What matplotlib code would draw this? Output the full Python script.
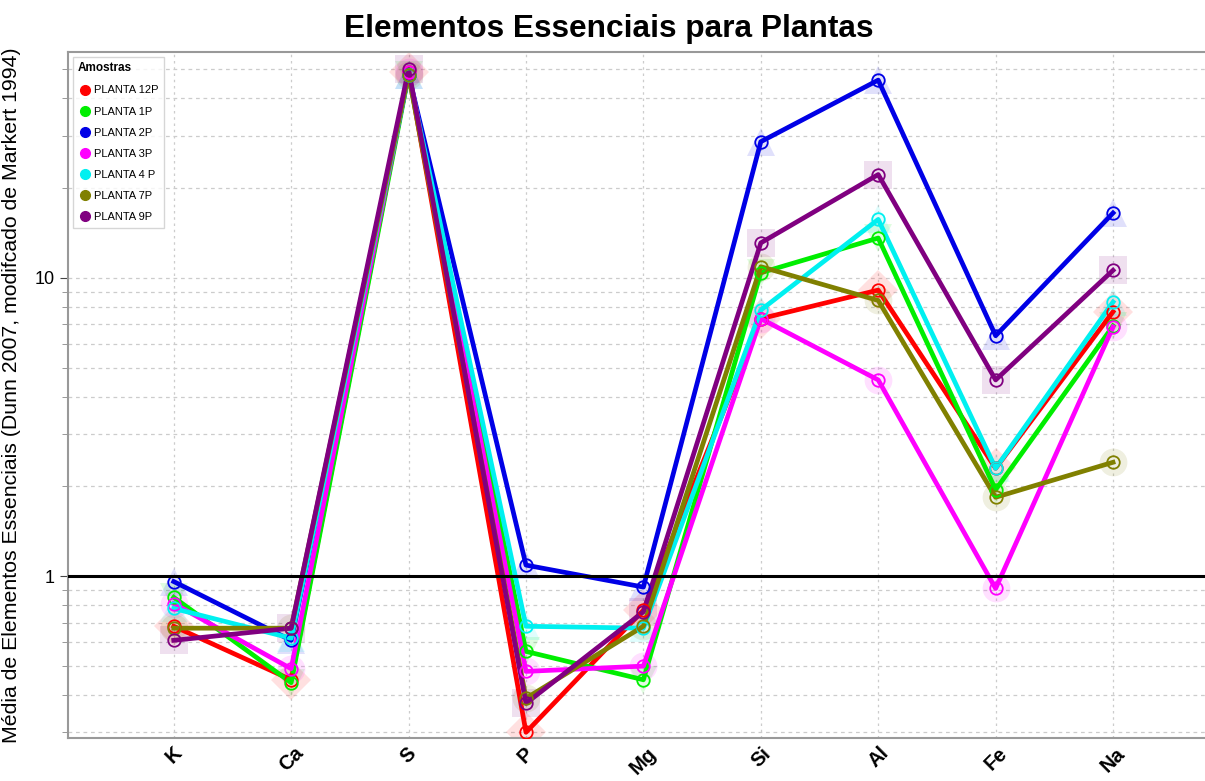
import numpy as np
import matplotlib.pyplot as plt
from matplotlib.ticker import LogLocator, FixedLocator, NullFormatter

plt.rcParams["font.family"] = ["Liberation Sans", "DejaVu Sans"]

# Elements on the x axis
elementos = ["K", "Ca", "S", "P", "Mg", "Si", "Al", "Fe", "Na"]

# Normalised mean concentration per sample (Dunn 2007 / Markert 1994)
planta_12p = [0.68, 0.45, 49, 0.30, 0.77, 7.3, 9.1, 2.3, 7.7]
planta_1p = [0.85, 0.44, 48, 0.56, 0.45, 10.4, 13.6, 1.95, 6.9]
planta_2p = [0.96, 0.61, 48, 1.09, 0.92, 28.6, 46.0, 6.4, 16.5]
planta_3p = [0.81, 0.49, 49, 0.48, 0.50, 7.3, 4.55, 0.91, 6.85]
planta_4p = [0.78, 0.62, 48, 0.68, 0.67, 7.8, 15.7, 2.3, 8.3]
planta_7p = [0.67, 0.67, 48, 0.39, 0.68, 10.9, 8.4, 1.84, 2.41]
planta_9p = [0.61, 0.67, 50, 0.375, 0.76, 13.1, 22.2, 4.55, 10.6]

amostras = ["PLANTA 12P", "PLANTA 1P", "PLANTA 2P", "PLANTA 3P",
            "PLANTA 4 P", "PLANTA 7P", "PLANTA 9P"]
series = [planta_12p, planta_1p, planta_2p, planta_3p, planta_4p, planta_7p, planta_9p]
cores = ["#ff0000", "#00ee00", "#0000e6", "#ff00ff", "#00f0f0", "#808000", "#800080"]
fundo = ["D", "v", "^", "o", "^", "o", "s"]

fig = plt.figure(figsize=(12.05, 7.81), dpi=100)
ax = fig.add_axes([0.0565, 0.055, 0.95, 0.878])

x = np.arange(len(elementos))

for nome, vals, cor, mk in zip(amostras, series, cores, fundo):
    # faint big shape behind each point
    ax.plot(x, vals, linestyle="none", marker=mk, markersize=20,
            color=cor, alpha=0.12, markeredgewidth=0, zorder=2)
    ax.plot(x, vals, color=cor, lw=3.4, zorder=3)
    ax.plot(x, vals, linestyle="none", marker="o", markersize=9,
            markerfacecolor="none", markeredgecolor=cor, markeredgewidth=1.3,
            zorder=4)
    # legend handle
    ax.plot([], [], linestyle="none", marker="o", markersize=7, color=cor, label=nome)

ax.axhline(1, color="black", lw=2.2, zorder=5)

ax.set_yscale("log")
ax.set_ylim(0.287, 57)
ax.set_xlim(-0.9, 8.85)

ax.yaxis.set_major_locator(FixedLocator([1, 10]))
ax.yaxis.set_minor_locator(LogLocator(base=10, subs=np.arange(2, 10)))
ax.yaxis.set_minor_formatter(NullFormatter())
ax.set_yticklabels(["1", "10"], fontsize=13)
ax.tick_params(axis="y", which="major", length=6, color="#444444")
ax.tick_params(axis="y", which="minor", length=4, color="#888888")

ax.set_xticks(x)
ax.set_xticklabels(elementos, rotation=45, fontsize=14.5, fontweight="bold")
ax.tick_params(axis="x", length=0, pad=4)

ax.grid(True, which="both", axis="y", linestyle=(0, (3, 3)), color="#cccccc", lw=0.9)
ax.grid(True, which="major", axis="x", linestyle=(0, (2, 3)), color="#cccccc", lw=0.9)

for s in ["left", "bottom", "top"]:
    ax.spines[s].set_color("#999999")
    ax.spines[s].set_linewidth(1.5)
ax.spines["right"].set_visible(False)

ax.set_ylabel("Média de Elementos Essenciais (Dunn 2007, modifcado de Markert 1994)",
              fontsize=15.3, labelpad=10)
fig.text(0.505, 0.963, "Elementos Essenciais para Plantas", fontsize=22.8,
         fontweight="bold", ha="center", va="center")

leg = ax.legend(loc="upper left", title="Amostras", fontsize=8, title_fontsize=8.5,
                frameon=True, fancybox=False, borderpad=0.5, labelspacing=1.0,
                handletextpad=0.2, handlelength=1.2, borderaxespad=0.4)
leg.get_title().set_fontweight("bold")
leg._legend_box.align = "left"
leg.get_frame().set_edgecolor("#cccccc")

fig.savefig("out.png", dpi=100)
